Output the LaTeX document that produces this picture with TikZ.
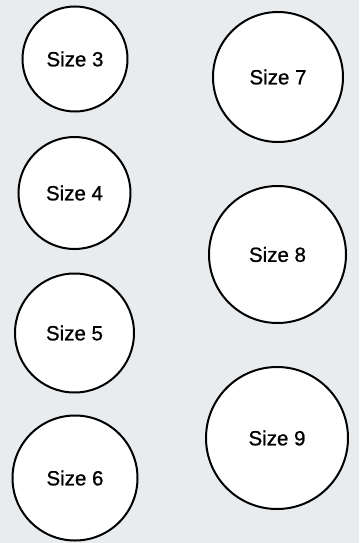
\documentclass[tikz,border=0pt]{standalone}
\usepackage{fontspec}
\setmainfont{Liberation Sans}
\newfontfamily\labelfont{Liberation Sans}[FakeBold=0.9]
\usepackage{tikz}
\definecolor{bggray}{RGB}{232,236,239}

\begin{document}
\begin{tikzpicture}[x=1pt, y=-1pt,
  sizecircle/.style={circle, draw=black, line width=2pt, fill=white,
    inner sep=0pt, font=\labelfont\fontsize{20.5}{24}\selectfont}]
  % ---- Background ----
  \fill[bggray] (0,0) rectangle (359,543);
  \useasboundingbox (0,0) rectangle (359,543);

  % ---- Left column ----
  \node[sizecircle, minimum size=105pt] (size3) at (75,59)    {Size 3};
  \node[sizecircle, minimum size=112pt] (size4) at (74.5,193) {Size 4};
  \node[sizecircle, minimum size=119pt] (size5) at (74.5,333) {Size 5};
  \node[sizecircle, minimum size=125pt] (size6) at (75,478)   {Size 6};

  % ---- Right column ----
  \node[sizecircle, minimum size=130pt] (size7) at (278,77)   {Size 7};
  \node[sizecircle, minimum size=137pt] (size8) at (277.5,254.5) {Size 8};
  \node[sizecircle, minimum size=142pt] (size9) at (277,438)  {Size 9};
\end{tikzpicture}
\end{document}
